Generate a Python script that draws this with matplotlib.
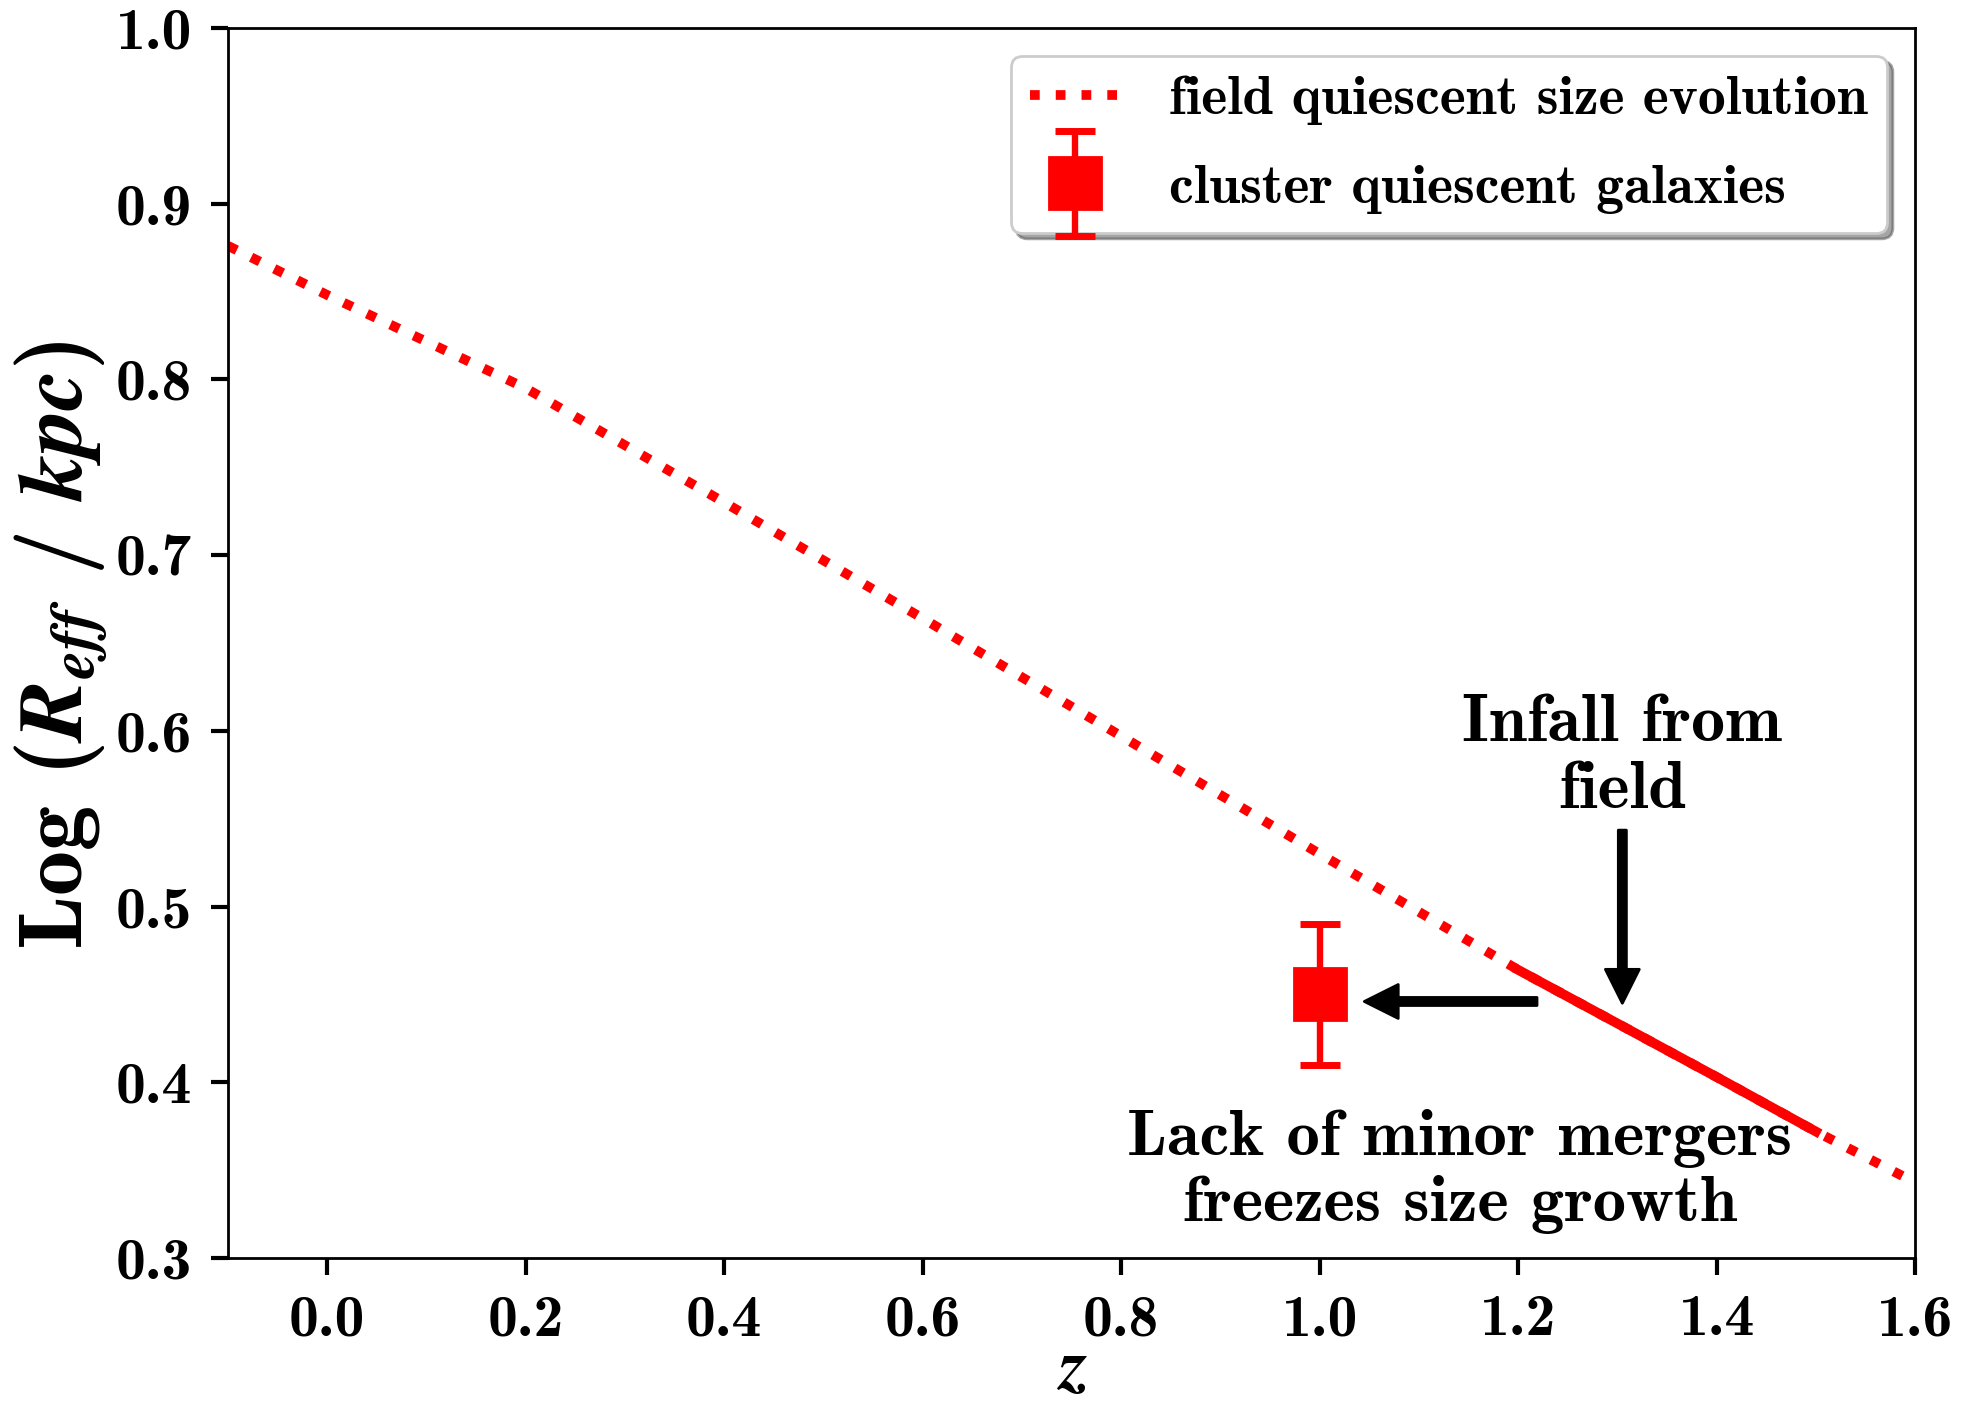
import numpy as np
import matplotlib
matplotlib.use("Agg")
import matplotlib.pyplot as plt
from matplotlib.container import ErrorbarContainer
from matplotlib.legend_handler import HandlerErrorbar

plt.rcParams['font.family'] = ['cmb10', 'DejaVu Serif']
plt.rcParams['axes.formatter.use_mathtext'] = False
plt.rcParams['axes.unicode_minus'] = False

# field quiescent size evolution
z_field = np.array([-0.1, 0.0, 0.2, 0.4, 0.6, 0.8, 1.0, 1.2, 1.4, 1.5, 1.6])
logr_field = np.array([0.876, 0.848, 0.795, 0.730, 0.664, 0.597, 0.530, 0.464, 0.403, 0.372, 0.343])

# highlighted (solid) part of the relation
z_infall_lo = 1.2
z_infall_hi = 1.5

# cluster point
z_cluster = [1.0]
logr_cluster = [0.45]
logr_cluster_err = [0.04]

xticks = [0.0, 0.2, 0.4, 0.6, 0.8, 1.0, 1.2, 1.4, 1.6]
yticks = [0.3, 0.4, 0.5, 0.6, 0.7, 0.8, 0.9, 1.0]

fig = plt.figure(figsize=(9.89, 7.025), dpi=200)
ax = fig.add_axes([0.1153, 0.1046, 0.8529, 0.8755])

ax.plot(z_field, logr_field, ':', color='red', lw=3.5,
        label='field quiescent size evolution')
solid = (z_field >= z_infall_lo) & (z_field <= z_infall_hi)
ax.plot(z_field[solid], logr_field[solid], '-', color='red', lw=3.5)

ax.errorbar(z_cluster, logr_cluster, yerr=logr_cluster_err, fmt='s', color='red',
            ms=18.5, elinewidth=2.3, capsize=7.2, capthick=2.5,
            label='cluster quiescent galaxies')

# arrows and notes
arw = dict(facecolor='black', edgecolor='black', width=2.9, headwidth=12.2,
           headlength=12.2, shrink=0)
ax.annotate('', xy=(1.305, 0.445), xytext=(1.305, 0.5435), arrowprops=arw)
ax.annotate('', xy=(1.045, 0.446), xytext=(1.219, 0.446), arrowprops=arw)
ax.text(1.305, 0.585, 'Infall from\nfield', ha='center', va='center',
        multialignment='center', fontsize=24.5, linespacing=1.15)
ax.text(1.141, 0.349, 'Lack of minor mergers\nfreezes size growth', ha='center',
        va='center', multialignment='center', fontsize=24, linespacing=1.15)

ax.set_xlim(-0.1, 1.6)
ax.set_ylim(0.3, 1.0)
ax.set_xticks(xticks)
ax.set_yticks(yticks)
ax.tick_params(axis='both', labelsize=21.5, width=1.5, length=6, pad=7)
for s in ax.spines.values():
    s.set_linewidth(1.0)

ax.set_xlabel(r'$\mathbfit{z}$', fontsize=26, math_fontfamily='stix',
              va='baseline', ha='center')
ax.xaxis.set_label_coords(0.5, -0.106)
ax.set_ylabel(r'Log ($\mathbfit{R}_{\mathbfit{eff}}$ / $\mathbfit{kpc}$)',
              fontsize=32.5, math_fontfamily='stix', va='center', ha='center')
ax.yaxis.set_label_coords(-0.099, 0.498)

ax.legend(loc='upper right', fontsize=20, shadow=True, fancybox=True,
          labelspacing=0.7, borderpad=0.35, handlelength=1.6, handletextpad=0.9,
          handler_map={ErrorbarContainer: HandlerErrorbar(yerr_size=0.95)})

fig.savefig('out.png', dpi=200)
